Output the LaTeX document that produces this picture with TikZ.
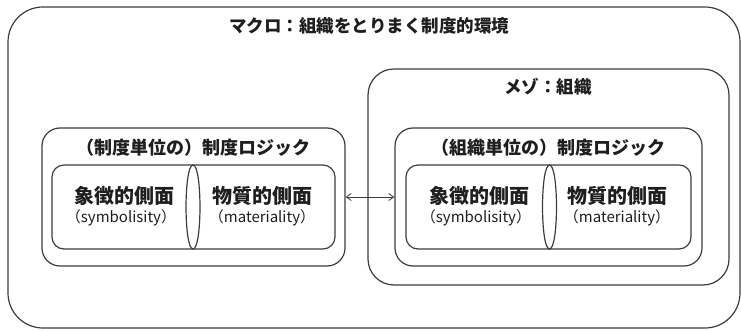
\documentclass[tikz,border=0pt]{standalone}
\usepackage{fontspec}
\setmainfont{Noto Sans CJK JP}
\usetikzlibrary{arrows.meta}
\definecolor{linegray}{HTML}{3C3C3C}
\definecolor{txt}{HTML}{1E1E1E}
\begin{document}
\begin{tikzpicture}[x=1pt,y=-1pt,
  frame/.style={draw=linegray, line width=1.2pt, inner sep=0pt},
  pairbox/.style={draw=linegray, line width=1.2pt},
  toptitle/.style={font=\fontsize{17.5}{20}\selectfont\bfseries, text=txt, inner sep=0pt},
  logictitle/.style={font=\fontsize{18}{20}\selectfont\bfseries, text=txt, inner sep=0pt},
  facet/.style={font=\fontsize{20}{22}\selectfont\bfseries, text=txt, inner sep=0pt},
  facetsub/.style={font=\fontsize{15}{18}\selectfont, text=txt, inner sep=0pt},
  link/.style={draw=linegray, line width=0.8pt, {Straight Barb[length=5pt,width=7pt]}-{Straight Barb[length=5pt,width=7pt]}}
]
\useasboundingbox (0,0) rectangle (741,331);

% outer: macro
\node[frame, rounded corners=35pt, minimum width=732pt, minimum height=321pt] (macro) at (374,167.5) {};
\node[toptitle] (macrotitle) at (369,26) {マクロ：組織をとりまく制度的環境};

% meso
\node[frame, rounded corners=26pt, minimum width=361pt, minimum height=216pt] (meso) at (548.5,177) {};
\node[toptitle] (mesotitle) at (548,87) {メゾ：組織};

% logic boxes
\node[frame, rounded corners=18pt, minimum width=303pt, minimum height=138pt] (llogic) at (193.5,197) {};
\node[logictitle] (llogictitle) at (193,148) {（制度単位の）制度ロジック};
\node[frame, rounded corners=18pt, minimum width=307pt, minimum height=138pt] (rlogic) at (548.5,197) {};
\node[logictitle] (rlogictitle) at (548,148) {（組織単位の）制度ロジック};

% left pair
\draw[pairbox] (193,165) [rounded corners=12pt]-- (52,165) -- (52,249) [sharp corners]-- (193,249)
  .. controls (202.3,249) and (202.3,165) .. (193,165) -- cycle;
\draw[pairbox] (193,165) [rounded corners=12pt]-- (335,165) -- (335,249) [sharp corners]-- (193,249)
  .. controls (183.7,249) and (183.7,165) .. (193,165) -- cycle;
% right pair
\draw[pairbox] (549.5,165) [rounded corners=12pt]-- (406,165) -- (406,249) [sharp corners]-- (549.5,249)
  .. controls (558.8,249) and (558.8,165) .. (549.5,165) -- cycle;
\draw[pairbox] (549.5,165) [rounded corners=12pt]-- (691,165) -- (691,249) [sharp corners]-- (549.5,249)
  .. controls (540.2,249) and (540.2,165) .. (549.5,165) -- cycle;

% labels
\node[facet] (lsym) at (124,196) {象徴的側面};
\node[facetsub] (lsymsub) at (121,218) {（symbolisity）};
\node[facet] (lmat) at (262,196) {物質的側面};
\node[facetsub] (lmatsub) at (262,218) {（materiality）};
\node[facet] (rsym) at (479,196) {象徴的側面};
\node[facetsub] (rsymsub) at (476,218) {（symbolisity）};
\node[facet] (rmat) at (617,196) {物質的側面};
\node[facetsub] (rmatsub) at (617,218) {（materiality）};

% connector
\draw[link] (llogic.east) -- (rlogic.west);
\end{tikzpicture}
\end{document}
